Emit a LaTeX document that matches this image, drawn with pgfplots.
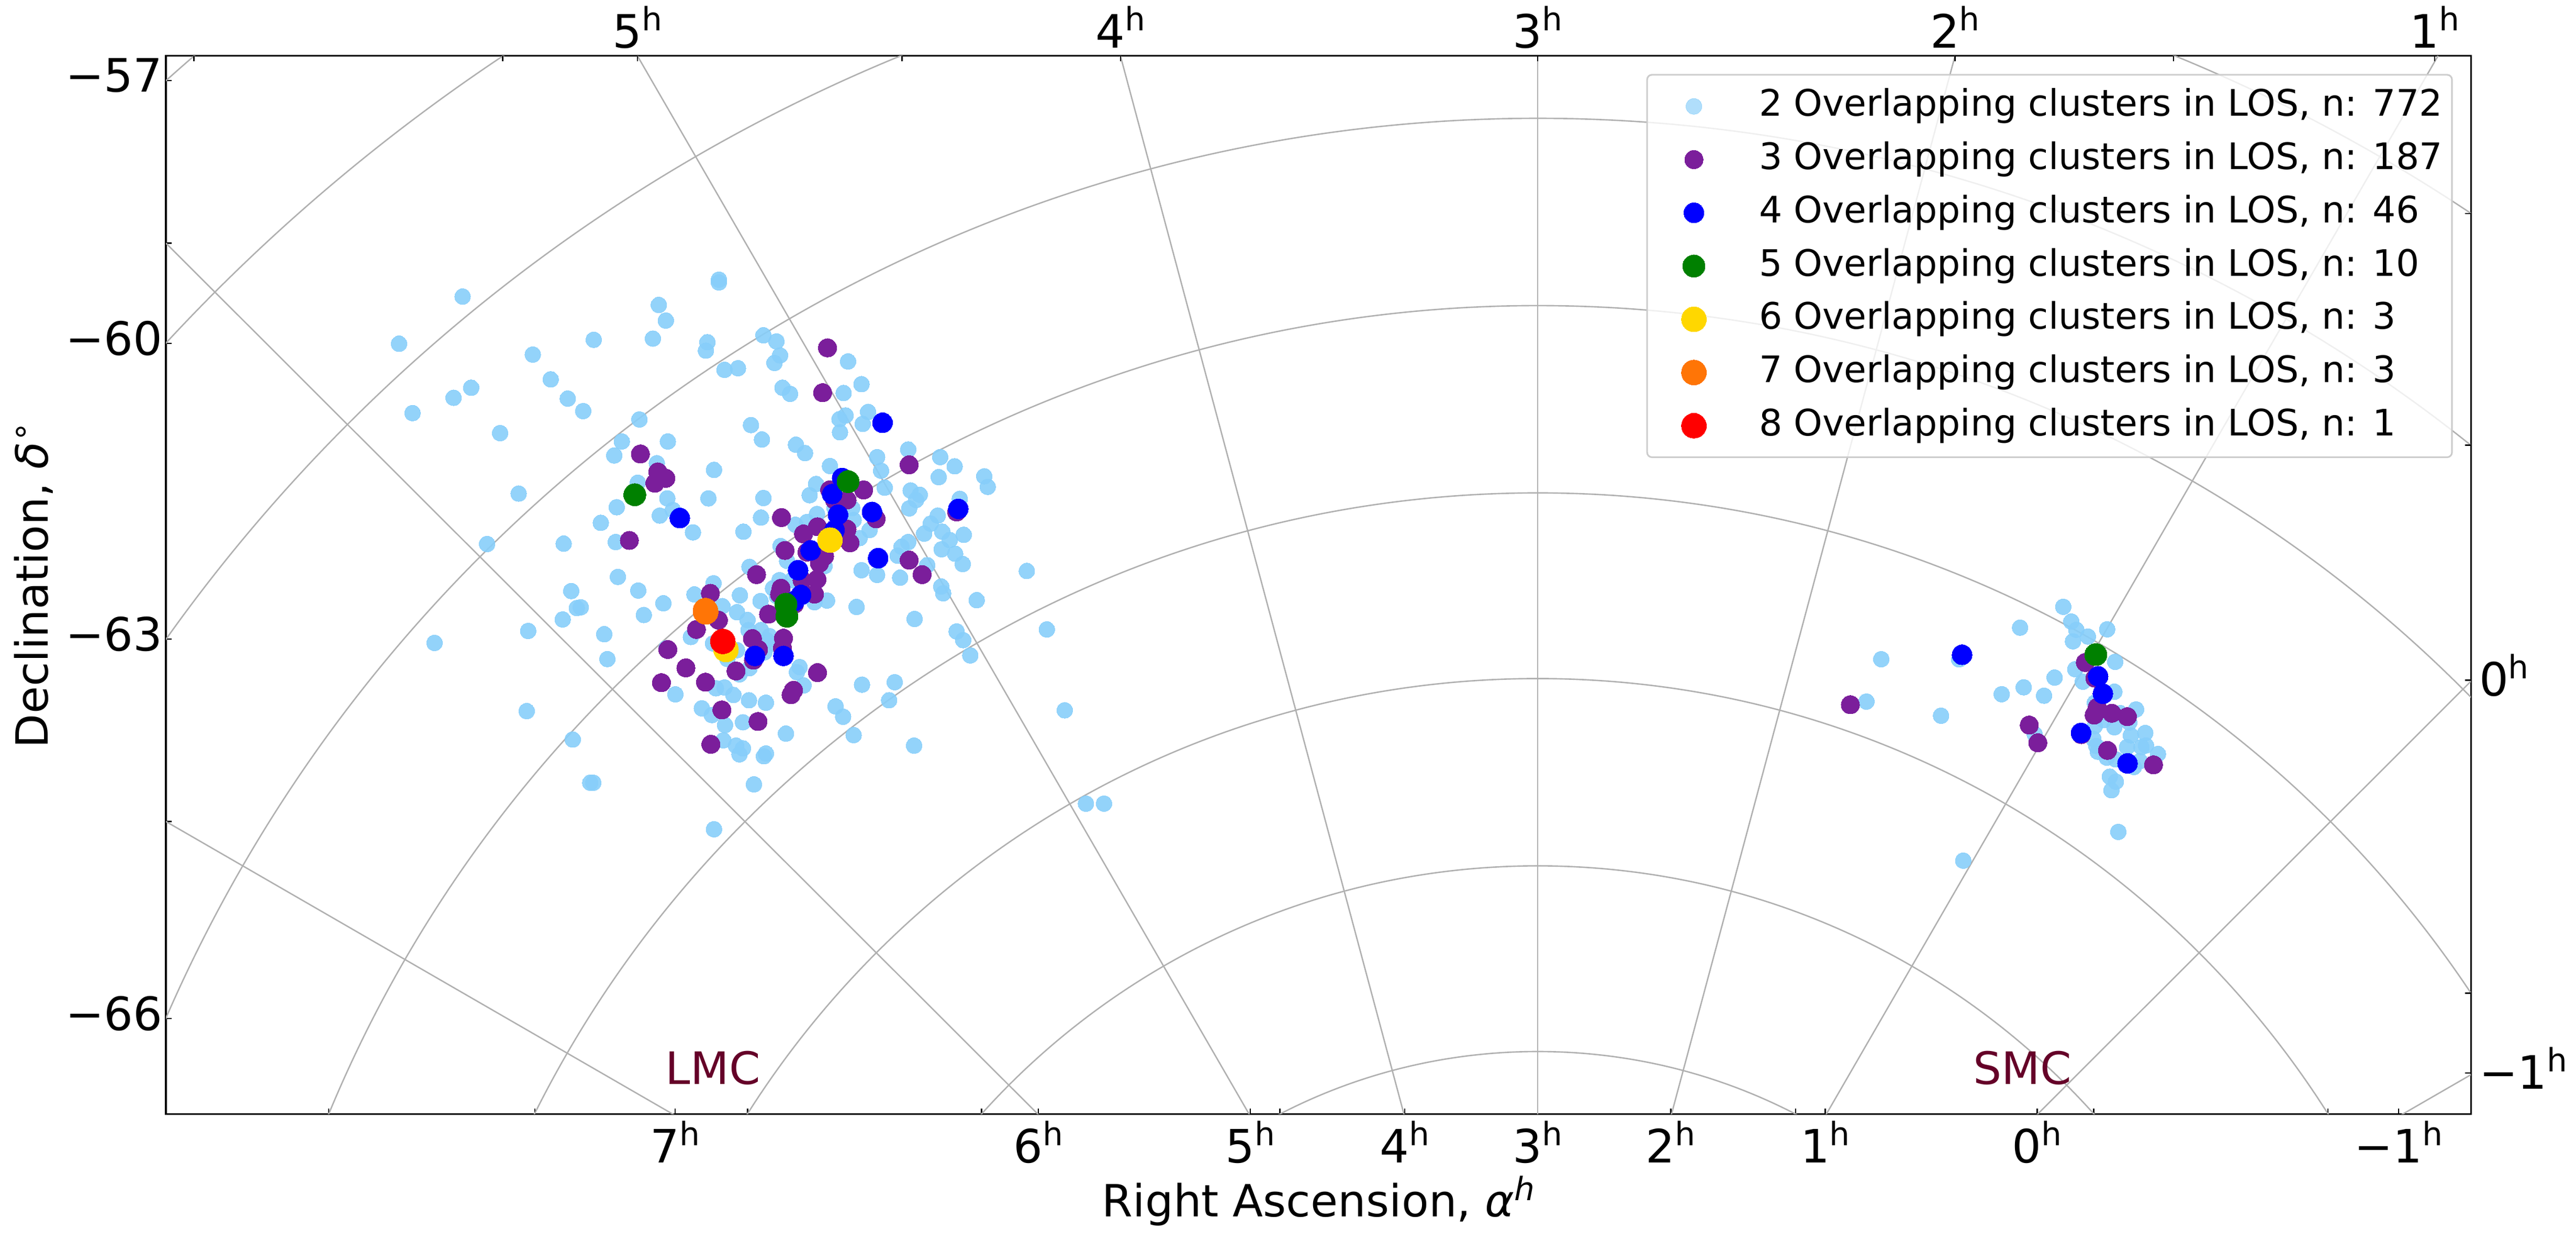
\documentclass[border=0pt]{standalone}
\usepackage{fontspec}
\setmainfont{DejaVu Sans}
\usepackage{pgfplots}
\pgfplotsset{compat=1.18}
\definecolor{cLight}{HTML}{87CEFA}
\definecolor{cPurple}{HTML}{7B1E9B}
\definecolor{cGreen}{HTML}{008000}
\definecolor{cOrange}{HTML}{FF7506}
\definecolor{cGold}{HTML}{FFD700}
\definecolor{cGrid}{HTML}{B0B0B0}
\definecolor{cName}{HTML}{650028}
\newcommand{\sups}[2][5.25pt]{\raisebox{#1}{\fontsize{9.8}{11}\selectfont #2}}
\newcommand{\hr}[1]{#1\sups{h}}
\pgfplotsset{
  base/.style={
    scale only axis, width=701.5pt, height=322pt,
    xmin=101, xmax=1504, ymin=34, ymax=678, y dir=reverse, clip=true,
    tick align=inside, major tick length=1.7pt, minor tick length=0pt,
    tick style={black, line width=0.4pt}, axis line style={black, line width=0.5pt},
    /pgf/number format/assume math mode=true,
    tick label style={font=\fontsize{14}{16}\selectfont},
    label style={font=\fontsize{13.5}{16}\selectfont},
  },
  dots/.style n args={3}{only marks, mark=*, mark size=#1,
    mark options={draw=#2, line width=0pt, fill=#2, opacity=#3}},
  gridline/.style={cGrid, line width=0.42pt, forget plot},
}
\begin{document}
\begin{tikzpicture}
\useasboundingbox (-50.5pt,-38.65pt) rectangle ++(784pt,377.65pt);
\begin{axis}[base,
  xtick={200,325.5,411,455,597.5,632,761,779,855,936,1017,1093,1111,1240,1274.5,1417,1460},
  xticklabels={,,\hr{7},,,\hr{6},\hr{5},,\hr{4},\hr{3},\hr{2},,\hr{1},\hr{0},,,\hr{−1}},
  xtick pos=bottom,
  x tick label style={anchor=base,yshift=-14.8pt},
  ytick={49,148,209,389,500,620},
  yticklabels={−57,,−60,−63,,−66},
  ytick pos=left,
  y tick label style={xshift=2.5pt,yshift=1.5pt},
  xlabel={Right Ascension, {\itshape α\sups[5pt]{h}}},
  ylabel={Declination, {\itshape δ}\sups[5pt]{∘}},
  xlabel style={at={(axis description cs:0.5,0)},anchor=base,yshift=-31.3pt},
  ylabel style={at={(axis description cs:0,0.5)},anchor=base,rotate=0,yshift=36pt},
  legend style={at={(axis cs:1493,45)},anchor=north east,
    fill=white,fill opacity=0.8,text opacity=1,draw=black!20,line width=0.5pt,rounded corners=1.5pt,
    font=\fontsize{11.1}{13}\selectfont,
    inner xsep=2.5pt,inner ysep=4pt,
    row sep=5pt,
    nodes={inner sep=0.4pt,text height=8.2pt,text depth=2.2pt},
  },
  legend cell align=left,
  legend image code/.code={\path (-11.5pt,0pt) (19.2pt,0pt); \draw[#1] plot coordinates {(0pt,0pt)};},
]
% meridians from the pole to the frame
\addplot[gridline] coordinates {(936,982) (101,500)};
\addplot[gridline] coordinates {(936,982) (101,148)};
\addplot[gridline] coordinates {(936,982) (388,34)};
\addplot[gridline] coordinates {(936,982) (682,34)};
\addplot[gridline] coordinates {(936,982) (936,34)};
\addplot[gridline] coordinates {(936,982) (1190,34)};
\addplot[gridline] coordinates {(936,982) (1484,34)};
\addplot[gridline] coordinates {(936,982) (1771,148)};
\addplot[gridline] coordinates {(936,982) (1771,500)};
% parallels, 3 deg apart
\draw[cGrid,line width=0.42pt] (axis cs:936,982) circle [radius=342];
\draw[cGrid,line width=0.42pt] (axis cs:936,982) circle [radius=455];
\draw[cGrid,line width=0.42pt] (axis cs:936,982) circle [radius=569];
\draw[cGrid,line width=0.42pt] (axis cs:936,982) circle [radius=682];
\draw[cGrid,line width=0.42pt] (axis cs:936,982) circle [radius=796];
\draw[cGrid,line width=0.42pt] (axis cs:936,982) circle [radius=910];
\draw[cGrid,line width=0.42pt] (axis cs:936,982) circle [radius=1024];
\draw[cGrid,line width=0.42pt] (axis cs:936,982) circle [radius=1138];
\draw[cGrid,line width=0.42pt] (axis cs:936,982) circle [radius=1252];

\addplot[dots={2.4pt}{cLight}{0.9}, legend image post style={mark options={draw=cLight,line width=0pt,fill=cLight,opacity=0.65}}] coordinates {
(281.6,180.5)(242.9,209.2)(324.3,215.8)(286.8,236.0)(276.1,242.1)(251.1,251.4)(335.2,230.9)(345.6,242.6)
(355.0,250.2)(304.4,263.6)(361.4,206.8)(397.4,206.1)(401.0,185.6)(405.3,195.1)(437.6,170.2)(437.6,171.9)
(430.6,208.3)(429.7,213.4)(441.0,225.1)(449.2,224.1)(464.7,204.1)(472.6,207.8)(474.8,216.3)(471.4,220.9)
(476.3,236.0)(480.9,239.7)(516.2,220.0)(524.4,233.8)(513.5,239.2)(389.2,255.3)(528.4,250.7)(514.7,252.9)
(511.0,255.1)(525.1,258.0)(511.3,263.1)(457.1,258.7)(463.8,267.5)(406.5,268.7)(378.5,268.7)(373.9,277.2)
(484.5,270.7)(490.0,275.8)(399.8,281.9)(434.6,286.0)(505.2,283.6)(533.9,278.2)(552.8,273.6)(536.3,286.5)
(572.3,278.2)(581.1,283.8)(571.4,290.4)(599.1,289.9)(601.2,296.3)(538.5,296.8)(554.3,298.5)(559.8,301.1)
(557.6,304.3)(553.4,309.4)(584.2,303.6)(388.2,293.8)(315.7,300.4)(375.4,308.7)(406.2,303.3)(431.2,303.3)
(464.7,303.1)(496.7,294.6)(492.8,301.4)(401.6,313.8)(409.6,310.4)(421.8,324.0)(463.2,315.0)(365.7,318.2)
(452.5,323.6)(296.5,331.1)(343.1,330.9)(374.8,329.9)(570.8,313.8)(566.5,318.7)(562.5,324.8)(573.5,323.6)
(586.6,325.5)(578.1,328.7)(548.8,332.8)(552.8,329.9)(546.4,338.2)(573.2,334.3)(581.4,337.0)(586.0,343.3)
(564.4,344.0)(625.0,347.5)(524.4,347.0)(533.9,349.9)(547.9,351.6)(572.9,357.0)(574.1,361.1)(594.5,365.3)
(456.2,345.0)(376.1,351.1)(388.5,359.4)(347.7,359.7)(403.8,367.2)(353.5,369.6)(351.1,370.1)(422.7,361.8)
(434.3,355.0)(450.4,362.3)(462.9,365.8)(503.4,365.5)(521.4,369.4)(391.9,374.3)(342.5,377.0)(556.7,376.7)
(582.3,384.3)(586.3,389.6)(590.6,398.9)(637.2,383.1)(321.5,384.0)(367.8,386.0)(264.5,391.3)(369.7,401.1)
(420.5,387.7)(405.6,394.5)(434.0,391.6)(648.1,432.3)(320.6,432.8)(348.6,450.1)(361.1,476.4)(359.3,476.4)
(458.9,477.4)(434.6,504.7)(661.0,489.1)(672.0,489.1)(556.4,453.8)(519.6,447.4)(478.4,446.5)(513.2,436.2)(508.6,429.9)
(541.2,426.2)(544.6,415.2)(524.7,416.7)(489.1,417.2)(485.1,409.1)(486.7,406.0)(466.2,427.7)(455.9,426.2)
(452.2,439.6)(441.3,441.3)(433.3,435.2)(427.2,431.1)(411.1,422.6)(435.8,418.9)(441.0,418.4)(446.4,423.0)
(440.3,450.6)(448.0,453.8)(452.2,455.5)(450.1,459.1)(466.2,458.6)(465.0,460.3)(439.7,368.9)(448.6,372.6)
(455.0,377.4)(455.6,383.5)(463.2,383.5)(466.8,389.6)(472.0,392.1)(465.3,397.0)(448.6,395.7)(442.8,401.1)
(450.1,410.4)(456.2,406.7)(468.4,387.2)(474.5,353.1)(470.5,358.0)(475.1,332.3)(479.1,341.4)(484.2,319.4)
(491.2,317.7)(497.3,312.8)(508.0,309.2)(518.7,309.2)(519.6,316.5)(529.3,322.6)(523.2,327.5)(501.9,344.5)
(495.8,366.5)(482.1,353.1)(472.9,362.8)
(1255.9,369.3)(1260.8,378.3)(1263.8,383.3)(1261.8,390.3)(1270.9,387.4)(1282.6,383.0)(1229.6,382.0)(1287.5,402.8)
(1263.2,407.3)(1250.6,412.4)(1267.8,414.9)(1231.8,418.3)(1244.2,423.4)(1218.4,422.5)(1145.1,401.2)(1136.1,427.0)
(1181.5,435.6)(1192.5,401.3)(1287.0,421.0)(1275.1,427.7)(1300.2,431.8)(1290.6,434.1)(1296.1,439.7)(1275.1,441.9)
(1287.0,442.6)(1297.0,447.6)(1305.8,446.1)(1274.2,449.7)(1276.0,454.0)(1294.7,454.7)(1303.5,454.7)(1306.2,453.7)
(1276.9,457.5)(1282.4,461.1)(1287.9,462.2)(1313.5,458.9)(1302.5,463.2)(1298.9,466.8)(1284.2,472.7)(1287.9,475.7)
(1285.2,481.0)(1289.4,506.3)(1195.0,523.8)(1238.5,446.9)(1280.6,438.3)
};
\addlegendentry{2 Overlapping clusters in LOS, n: 772}
\addplot[dots={2.8pt}{cPurple}{1}] coordinates {
(503.7,211.7)(500.7,239.0)(389.8,276.3)(400.4,287.2)(405.3,291.1)(398.6,294.1)(383.1,328.9)(553.4,282.9)
(525.7,298.2)(505.0,298.2)(508.0,304.3)(515.6,304.3)(533.3,315.8)(582.3,311.6)(475.7,315.0)(497.6,320.6)
(489.1,325.0)(515.6,322.1)(517.4,330.4)(477.8,335.0)(491.2,336.0)(501.9,338.4)(498.8,342.8)(553.4,340.9)
(561.3,349.7)(460.5,349.7)(497.3,352.6)(488.2,353.1)(475.4,358.0)(495.8,361.6)(474.5,361.6)(483.6,367.7)
(467.8,373.8)(432.4,361.1)(437.3,377.4)(423.9,383.1)(476.9,388.4)(458.0,388.7)(476.3,394.5)(461.7,395.3)
(458.6,401.8)(406.5,395.3)(417.5,406.5)(448.0,408.4)(497.6,409.4)(402.6,415.5)(429.4,415.2)(483.0,420.1)
(481.5,422.8)(439.4,432.1)(461.4,439.1)(432.7,453.0)
(1269.3,403.2)(1275.1,412.7)(1235.2,441.3)(1240.4,452.1)(1126.3,428.9)(1276.6,430.5)(1274.7,435.2)(1285.5,434.1)
(1294.9,436.2)(1266.9,447.1)(1282.8,456.7)(1310.8,465.5)
};
\addlegendentry{3 Overlapping clusters in LOS, n: 187}
\addplot[dots={3.05pt}{blue}{1}] coordinates {
(537.2,257.3)(512.6,290.9)(506.5,300.7)(413.8,315.3)(530.8,311.6)(583.3,309.7)(510.1,313.3)(508.0,322.6)
(493.4,335.0)(534.5,339.7)(485.8,347.0)(487.6,362.1)(483.6,365.8)(459.5,399.2)(476.9,399.2)
(1194.3,398.5)(1277.1,411.6)(1280.0,422.2)(1266.7,446.1)(1295.0,464.6)
};
\addlegendentry{4 Overlapping clusters in LOS, n: 46}
\addplot[dots={3.4pt}{cGreen}{1}] coordinates {
(386.4,301.1)(516.2,293.1)(478.4,367.7)(479.0,375.0)(1275.7,398.4)
};
\addlegendentry{5 Overlapping clusters in LOS, n: 10}
\addplot[dots={3.8pt}{cGold}{1}] coordinates {
(505.2,328.7)(441.9,395.3)(440.0,390.4)
};
\addlegendentry{6 Overlapping clusters in LOS, n: 3}
\addplot[dots={3.8pt}{cOrange}{1}] coordinates {
(429.4,372.1)(429.4,371.6)(429.6,372.4)
};
\addlegendentry{7 Overlapping clusters in LOS, n: 3}
\addplot[dots={3.8pt}{red}{1}] coordinates {
(440.0,390.4)
};
\addlegendentry{8 Overlapping clusters in LOS, n: 1}
\node[text=cName,font=\fontsize{13.6}{16}\selectfont] at (axis cs:434,650) {LMC};
\node[text=cName,font=\fontsize{13.6}{16}\selectfont] at (axis cs:1231,650) {SMC};
\end{axis}
\begin{axis}[base,
  axis line style={draw=none},
  xtick={118,306,388,549,682,936,1190,1323,1482},
  xticklabels={,,\hr{5},,\hr{4},\hr{3},\hr{2},,\hr{1}},
  ytick={130,271,414,604.5,653},
  yticklabels={,,\hr{0},,\hr{−1}},
  xtick pos=upper, xticklabel pos=upper,
  ytick pos=upper, yticklabel pos=upper,
  x tick label style={anchor=base,yshift=2.5pt},
  y tick label style={xshift=-1pt,yshift=1.5pt},
]
\end{axis}
\end{tikzpicture}
\end{document}
